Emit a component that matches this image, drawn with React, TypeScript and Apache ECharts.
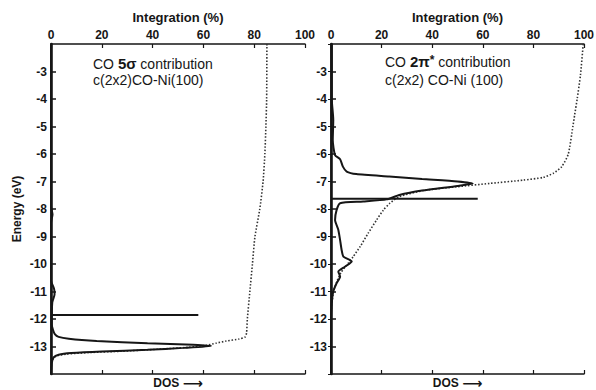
import React, { useEffect, useRef } from 'react';
import * as echarts from 'echarts';

// Energy axis (eV) and integration axis (%)
const energyMin = -14;
const energyMax = -2;
const integrationMin = 0;
const integrationMax = 100;
const integrationStep = 20;

// Left panel: CO 5σ contribution
const sigmaDosEnergy = [-2, -7.9, -8.2, -8.5, -10.6, -10.9, -11.1, -11.4, -12.2, -12.4, -12.55, -12.65, -12.72, -12.8, -12.88, -12.94, -12.98, -13.05, -13.12, -13.18, -13.24, -13.3, -13.4, -13.6, -14];
const sigmaDosValue = [0, 0, 0.6, 0, 0, 1.2, 1.4, 0.5, 0.3, 0.8, 1.5, 3, 7, 18, 38, 56, 63, 52, 38, 20, 8, 3, 1, 0.3, 0];
const sigmaIntEnergy = [-2, -4, -5, -6, -7, -8, -9, -10, -11, -12, -12.5, -12.65, -12.73, -12.8, -12.88, -12.96, -13.03, -13.1, -13.17, -13.22, -13.28, -13.35, -13.5, -14];
const sigmaIntValue = [85, 84.9, 84.6, 84.2, 83.5, 82.2, 80.3, 79.3, 78.3, 77.3, 77, 76.5, 74, 69, 65, 61, 54, 42, 28, 15, 6, 2, 0.5, 0];
const sigmaLevelEnergy = [-11.85, -11.85];
const sigmaLevelValue = [0, 58];

// Right panel: CO 2π* contribution
const piDosEnergy = [-2, -4, -4.76, -5.5, -6.04, -6.19, -6.46, -6.64, -6.73, -6.82, -6.91, -7.0, -7.07, -7.16, -7.33, -7.49, -7.65, -7.73, -7.79, -8.04, -8.4, -8.76, -9.13, -9.49, -9.73, -9.91, -10.1, -10.28, -10.46, -10.7, -11.0, -11.42, -12, -14];
const piDosValue = [0.3, 0.3, 0.9, 0.7, 1.6, 3.6, 4.7, 6.2, 10, 23, 36, 50, 56, 50, 36, 27, 22, 12.7, 3.6, 2.2, 1.6, 2.9, 3.6, 4.2, 4.9, 8.2, 5.5, 2.9, 3.6, 2.2, 0.9, 0.3, 0, 0];
const piIntEnergy = [-2, -3.13, -4, -4.58, -5, -6, -6.46, -6.7, -6.85, -6.95, -7.07, -7.19, -7.33, -7.55, -7.79, -8.04, -8.4, -8.88, -9.37, -9.73, -9.96, -10.3, -10.6, -11, -11.5, -12, -14];
const piIntValue = [99.7, 98.6, 97.3, 96.3, 95.6, 93.8, 91.2, 87.9, 83.9, 76, 62.8, 49.7, 36.5, 27, 23.3, 20.7, 18, 14.7, 11.5, 8.8, 6.9, 4, 2.5, 1, 0.3, 0, 0];
const piLevelEnergy = [-7.63, -7.63];
const piLevelValue = [0, 58];

const pairs = (vals: number[], energies: number[]) => vals.map((v, i) => [v, energies[i]]);

const INK = '#161616';
const FONT = '"Liberation Sans", Arial, sans-serif';

export default function App() {
  const ref = useRef<HTMLDivElement>(null);
  useEffect(() => {
    if (!ref.current) return;
    const chart = echarts.init(ref.current, null, { renderer: 'svg' });

    const grids = [
      { left: 51, right: 291, top: 44, bottom: 16, outerBoundsMode: 'none' },
      { left: 331, right: 12, top: 44, bottom: 16, outerBoundsMode: 'none' },
    ];

    const xAxes: any[] = [];
    const yAxes: any[] = [];
    [0, 1].forEach((g) => {
      xAxes.push({
        type: 'value', gridIndex: g, position: 'bottom',
        min: integrationMin, max: integrationMax, interval: integrationStep,
        axisLine: { show: true, lineStyle: { color: INK, width: 1.5 } },
        axisTick: { show: true, inside: true, length: 4, lineStyle: { color: INK, width: 1.2 } },
        axisLabel: { show: false },
        splitLine: { show: false },
        name: '{t|DOS }{a|⟶}', nameLocation: 'middle', nameGap: 2,
        nameTextStyle: {
          color: INK,
          rich: {
            t: { fontFamily: FONT, fontWeight: 'bold', fontSize: 12, color: INK },
            a: { fontFamily: '"DejaVu Sans", sans-serif', fontWeight: 'bold', fontSize: 14, color: INK },
          },
        },
      });
      xAxes.push({
        type: 'value', gridIndex: g, position: 'top',
        min: integrationMin, max: integrationMax, interval: integrationStep,
        axisLine: { show: true, lineStyle: { color: INK, width: 1.5 } },
        axisTick: { show: true, inside: true, length: 4, lineStyle: { color: INK, width: 1.2 } },
        axisLabel: { show: true, margin: 3, fontFamily: FONT, fontWeight: 'bold', fontSize: 12, color: INK, hideOverlap: false },
        splitLine: { show: false },
        name: 'Integration (%)', nameLocation: 'middle', nameGap: 18,
        nameTextStyle: { fontFamily: FONT, fontWeight: 'bold', fontSize: 13, color: INK },
      });
      yAxes.push({
        type: 'value', gridIndex: g, position: 'left',
        min: energyMin, max: energyMax, interval: 1,
        axisLine: { show: true, lineStyle: { color: INK, width: 2.6 } },
        axisTick: { show: true, inside: true, length: 5, lineStyle: { color: INK, width: 1.5 } },
        axisLabel: {
          show: true, margin: 4, fontFamily: FONT, fontWeight: 'bold', fontSize: 12, color: INK,
          showMinLabel: false, showMaxLabel: false,
        },
        splitLine: { show: false },
        name: g === 0 ? 'Energy (eV)' : '', nameLocation: 'middle', nameGap: 28,
        nameTextStyle: { fontFamily: FONT, fontWeight: 'bold', fontSize: 12, color: INK },
      });
      yAxes.push({
        type: 'value', gridIndex: g, position: 'right',
        min: energyMin, max: energyMax, interval: 1,
        axisLine: { show: true, lineStyle: { color: INK, width: 1.5 } },
        axisTick: { show: g === 1, inside: true, length: 3, lineStyle: { color: INK, width: 1 } },
        axisLabel: { show: false },
        splitLine: { show: false },
      });
    });

    const solid = (name: string, data: number[][], xi: number, yi: number, smooth: number) => ({
      name, type: 'line', xAxisIndex: xi, yAxisIndex: yi, data,
      showSymbol: false, symbol: 'none', smooth,
      lineStyle: { color: INK, width: 2 }, z: 3,
    });
    const dotted = (name: string, data: number[][], xi: number, yi: number) => ({
      name, type: 'line', xAxisIndex: xi, yAxisIndex: yi, data,
      showSymbol: false, symbol: 'none', smooth: 0.2,
      lineStyle: { color: '#333', width: 1.6, type: [1.5, 1.8] }, z: 2,
    });

    const option: any = {
      animation: false,
      backgroundColor: '#fff',
      grid: grids,
      xAxis: xAxes,
      yAxis: yAxes,
      series: [
        solid('5σ DOS', pairs(sigmaDosValue, sigmaDosEnergy), 0, 0, 0.2),
        solid('5σ level', pairs(sigmaLevelValue, sigmaLevelEnergy), 0, 0, 0),
        dotted('5σ integration', pairs(sigmaIntValue, sigmaIntEnergy), 0, 0),
        solid('2π* DOS', pairs(piDosValue, piDosEnergy), 2, 2, 0.2),
        solid('2π* level', pairs(piLevelValue, piLevelEnergy), 2, 2, 0),
        dotted('2π* integration', pairs(piIntValue, piIntEnergy), 2, 2),
      ],
      graphic: [
        {
          type: 'text', left: 93, top: 56,
          style: {
            text: '{n|CO }{b|5σ}{n| contribution}',
            rich: {
              n: { fontFamily: FONT, fontSize: 14, fill: INK },
              b: { fontFamily: FONT, fontSize: 15, fontWeight: 'bold', fill: INK },
            },
          },
        },
        {
          type: 'text', left: 93, top: 73,
          style: { text: 'c(2x2)CO-Ni(100)', fontFamily: FONT, fontSize: 14, fill: INK },
        },
        {
          type: 'text', left: 385, top: 54,
          style: {
            text: '{n|CO }{b|2π}{s|*}{n| contribution}',
            rich: {
              n: { fontFamily: FONT, fontSize: 14, fill: INK, verticalAlign: 'bottom' },
              b: { fontFamily: FONT, fontSize: 15, fontWeight: 'bold', fill: INK, verticalAlign: 'bottom' },
              s: { fontFamily: FONT, fontSize: 12, fontWeight: 'bold', fill: INK, verticalAlign: 'top' },
            },
          },
        },
        {
          type: 'text', left: 385, top: 73,
          style: { text: 'c(2x2) CO-Ni (100)', fontFamily: FONT, fontSize: 14, fill: INK },
        },
      ],
    };
    chart.setOption(option);
    return () => chart.dispose();
  }, []);
  return <div ref={ref} style={{ width: 596, height: 390, position: 'absolute', left: 0, top: 0 }} />;
}
